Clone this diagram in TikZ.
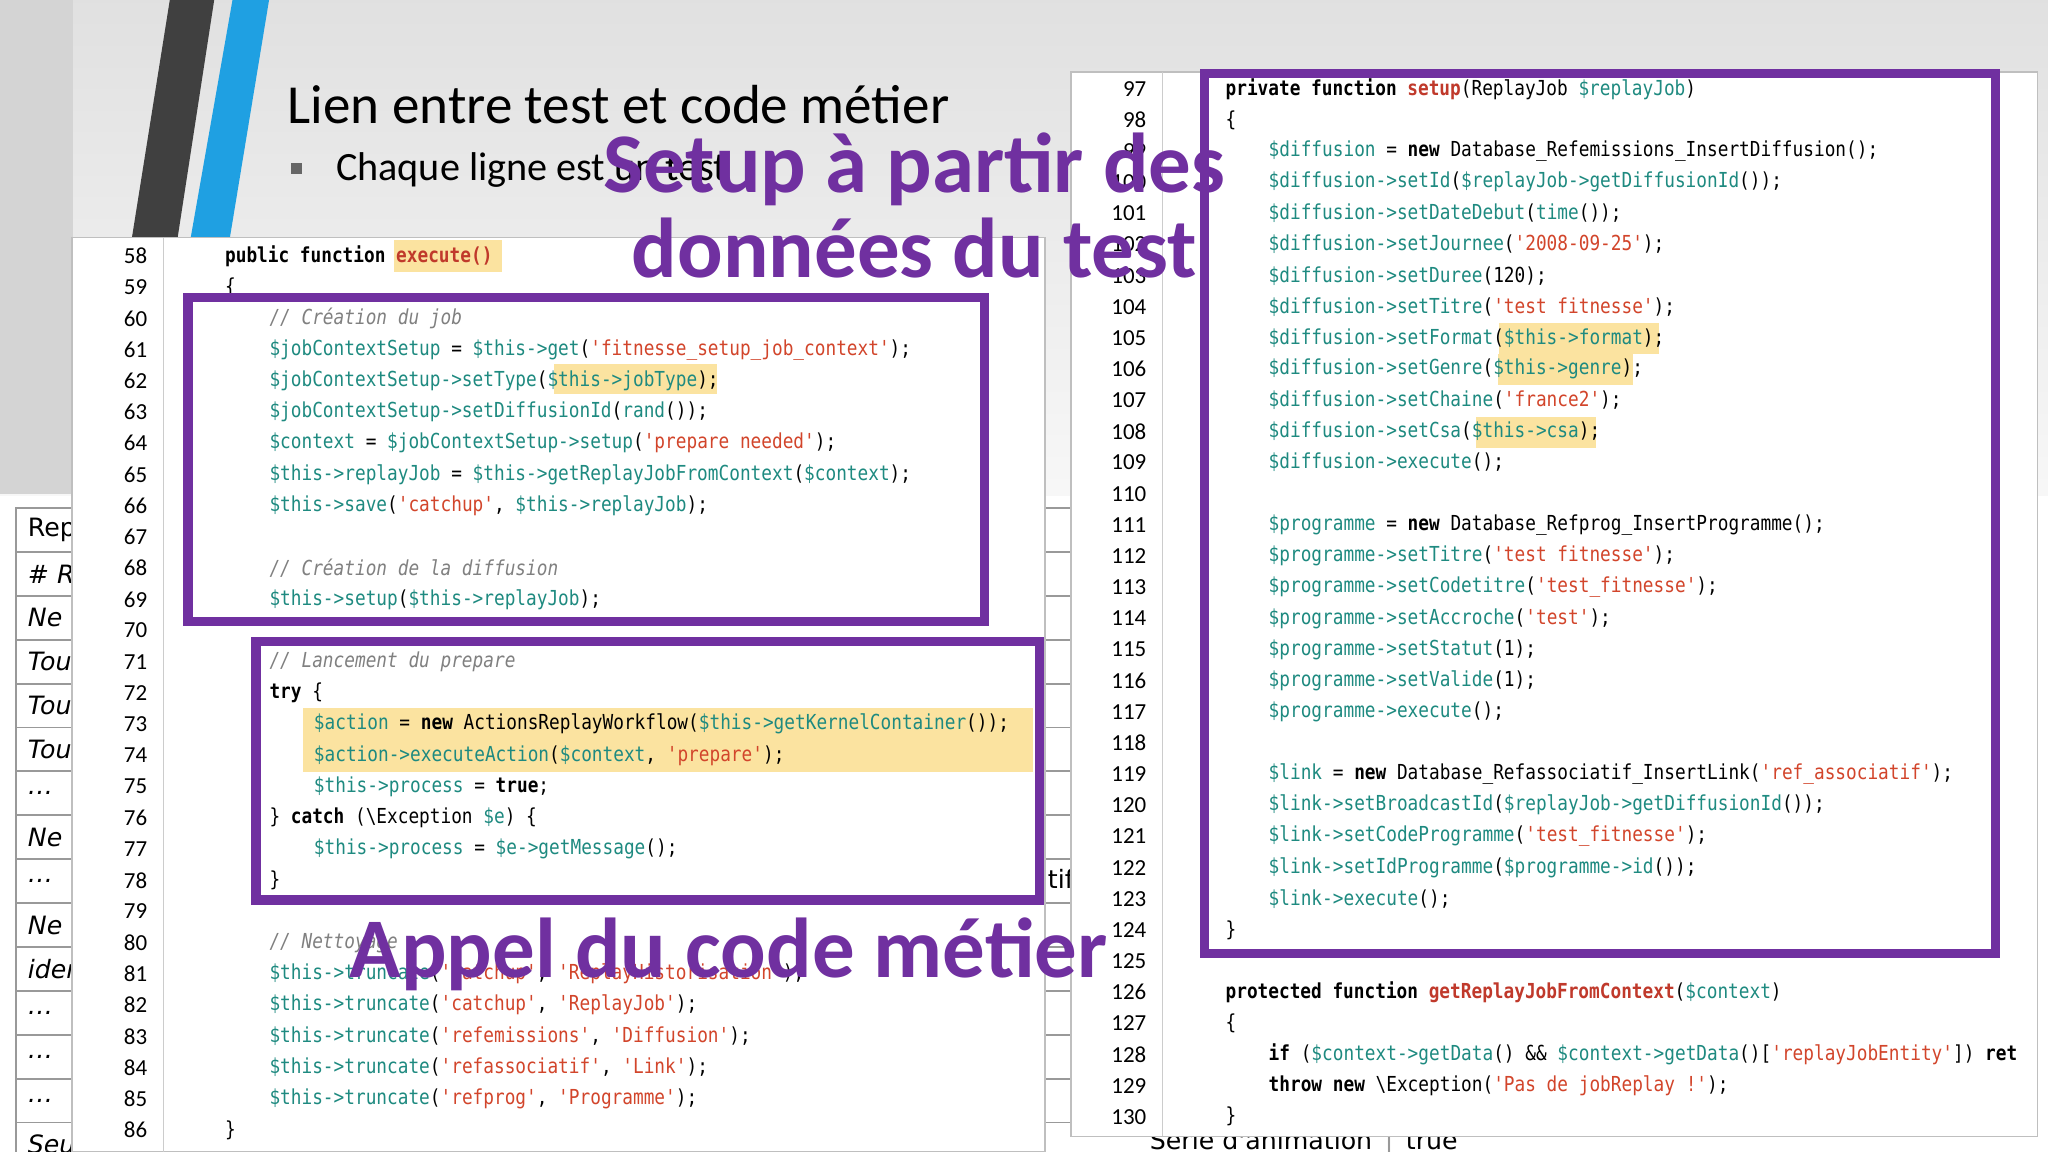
\documentclass[tikz,border=0pt]{standalone}
\usepackage{fontspec}
\setmainfont{Carlito}
\newfontfamily\codefont[FakeStretch=0.86,Ligatures=TeXOff]{DejaVu Sans Mono}
\newfontfamily\tabfont{DejaVu Sans}
\definecolor{pur}{HTML}{7030A0}
\definecolor{tealc}{HTML}{1E8A80}
\definecolor{strc}{HTML}{D2452B}
\definecolor{fnc}{HTML}{C0392B}
\definecolor{hlc}{HTML}{FBE3A0}
\definecolor{stripeblue}{HTML}{1FA0E2}
\newcommand\Tv[1]{\textcolor{tealc}{#1}}
\newcommand\Sq[1]{\textcolor{strc}{#1}}
\newcommand\Kw[1]{\textbf{#1}}
\newcommand\Cm[1]{\textcolor{gray}{\itshape #1}}
\newcommand\Fn[1]{\textcolor{fnc}{\textbf{#1}}}
\newcommand\CL[3]{\node[code] (L#2) at (#1,{196+(#2-58)*23.9}) {#3};}
\newcommand\CR[3]{\node[code] (R#2) at (#1,{68+(#2-97)*23.85}) {#3};}
\begin{document}
\begin{tikzpicture}[x=0.02cm,y=-0.02cm,
  code/.style={anchor=west,inner sep=0,font=\codefont\fontsize{9}{10}\selectfont},
  num/.style={anchor=east,inner sep=0,font=\fontsize{10}{11}\selectfont},
  panel/.style={fill=white,draw=black!25,line width=0.6pt},
  pbox/.style={draw=pur,line width=4pt},
  hl/.style={fill=hlc,draw=none},
  big/.style={text=pur,font=\bfseries\fontsize{37}{40}\selectfont,inner sep=0},
  cell/.style={draw=black!40,fill=white,line width=0.8pt},
  celltxt/.style={anchor=west,inner sep=0,font=\tabfont\fontsize{11}{12}\selectfont}]
\useasboundingbox (0,0) rectangle (1568,882);
% background
\shade[top color=black!12,bottom color=black!3] (0,0) rectangle (1568,380);
\fill[white] (0,380) rectangle (1568,882);
\fill[black!17] (0,0) rectangle (56,378);
% stripes
\fill[black!75] (130,0) -- (164,0) -- (136,182) -- (101,182) -- cycle;
\fill[stripeblue] (178,0) -- (206,0) -- (176,182) -- (146,182) -- cycle;
% title
\node[anchor=west,inner sep=0,font=\fontsize{24}{28}\selectfont] (title) at (220,80) {Lien entre test et code métier};
\fill[black!60] (223,125) rectangle (231,133);
\node[anchor=west,inner sep=0,font=\fontsize{17.5}{20}\selectfont] (bul) at (257,130) {Chaque ligne est un test};
% left table
\foreach \t [count=\i from 0] in {Rep,\# R,Ne,Tou,Tou,Tou,\ldots,Ne,\ldots,Ne,iden,\ldots,\ldots,\ldots,Seu}{
  \draw[cell] (12,{389+\i*33.6}) rectangle (70,{389+(\i+1)*33.6});
  \node[celltxt] (tc\i) at (21,{389+(\i+0.5)*33.6}) {\ifnum\i=0 Rep\else\textit{\t}\fi};
}
% right back table
\foreach \i in {0,...,14}{\draw[black!40,line width=0.8pt] (790,{389+\i*33.6}) -- (822,{389+\i*33.6});}
\node[anchor=west,inner sep=0,font=\tabfont\fontsize{11}{12}\selectfont] (tif) at (802,673) {tif};
\node[anchor=west,inner sep=0,font=\tabfont\fontsize{11}{12}\selectfont] (serie) at (880,875) {Série d'animation\hspace{0.5em}\textcolor{black!40}{|}\hspace{0.5em}true};
% left panel
\draw[panel] (55,182) rectangle (800,882);
\draw[black!20] (125,182) -- (125,882);
% right panel
\draw[panel] (820,55) rectangle (1560,870);
\draw[black!20] (890,55) -- (890,870);
% highlights
\fill[hl] (302,184) rectangle (384,208);
\fill[hl] (424,279) rectangle (549,302);
\fill[hl] (232,542) rectangle (791,591);
\fill[hl] (1148,247) rectangle (1270,271);
\fill[hl] (1147,271) rectangle (1250,295);
\fill[hl] (1130,319) rectangle (1222,343);
% line numbers
\foreach \n in {58,...,86}{\node[num] (nl\n) at (113,{196+(\n-58)*23.9}) {\n};}
\foreach \n in {97,...,130}{\node[num] (nr\n) at (878,{68+(\n-97)*23.85}) {\n};}
% left code
\CL{172}{58}{\Kw{public function} \Fn{execute()}}
\CL{172}{59}{\{}
\CL{206}{60}{\Cm{// Création du job}}
\CL{206}{61}{\Tv{\$jobContextSetup} = \Tv{\$this->get}(\Sq{'fitnesse\_setup\_job\_context'});}
\CL{206}{62}{\Tv{\$jobContextSetup->setType}(\Tv{\$this->jobType});}
\CL{206}{63}{\Tv{\$jobContextSetup->setDiffusionId}(\Tv{rand}());}
\CL{206}{64}{\Tv{\$context} = \Tv{\$jobContextSetup->setup}(\Sq{'prepare needed'});}
\CL{206}{65}{\Tv{\$this->replayJob} = \Tv{\$this->getReplayJobFromContext}(\Tv{\$context});}
\CL{206}{66}{\Tv{\$this->save}(\Sq{'catchup'}, \Tv{\$this->replayJob});}
\CL{206}{68}{\Cm{// Création de la diffusion}}
\CL{206}{69}{\Tv{\$this->setup}(\Tv{\$this->replayJob});}
\CL{206}{71}{\Cm{// Lancement du prepare}}
\CL{206}{72}{\Kw{try} \{}
\CL{240}{73}{\Tv{\$action} = \Kw{new} ActionsReplayWorkflow(\Tv{\$this->getKernelContainer}());}
\CL{240}{74}{\Tv{\$action->executeAction}(\Tv{\$context}, \Sq{'prepare'});}
\CL{240}{75}{\Tv{\$this->process} = \Kw{true};}
\CL{206}{76}{\} \Kw{catch} (\textbackslash Exception \Tv{\$e}) \{}
\CL{240}{77}{\Tv{\$this->process} = \Tv{\$e->getMessage}();}
\CL{206}{78}{\}}
\CL{206}{80}{\Cm{// Nettoyage}}
\CL{206}{81}{\Tv{\$this->truncate}(\Sq{'catchup'}, \Sq{'ReplayHistorisation'});}
\CL{206}{82}{\Tv{\$this->truncate}(\Sq{'catchup'}, \Sq{'ReplayJob'});}
\CL{206}{83}{\Tv{\$this->truncate}(\Sq{'refemissions'}, \Sq{'Diffusion'});}
\CL{206}{84}{\Tv{\$this->truncate}(\Sq{'refassociatif'}, \Sq{'Link'});}
\CL{206}{85}{\Tv{\$this->truncate}(\Sq{'refprog'}, \Sq{'Programme'});}
\CL{172}{86}{\}}
% right code
\begin{scope}
\clip (820,55) rectangle (1560,870);
\CR{938}{97}{\Kw{private function} \Fn{setup}(ReplayJob \Tv{\$replayJob})}
\CR{938}{98}{\{}
\CR{971}{99}{\Tv{\$diffusion} = \Kw{new} Database\_Refemissions\_InsertDiffusion();}
\CR{971}{100}{\Tv{\$diffusion->setId}(\Tv{\$replayJob->getDiffusionId}());}
\CR{971}{101}{\Tv{\$diffusion->setDateDebut}(\Tv{time}());}
\CR{971}{102}{\Tv{\$diffusion->setJournee}(\Sq{'2008-09-25'});}
\CR{971}{103}{\Tv{\$diffusion->setDuree}(120);}
\CR{971}{104}{\Tv{\$diffusion->setTitre}(\Sq{'test fitnesse'});}
\CR{971}{105}{\Tv{\$diffusion->setFormat}(\Tv{\$this->format});}
\CR{971}{106}{\Tv{\$diffusion->setGenre}(\Tv{\$this->genre});}
\CR{971}{107}{\Tv{\$diffusion->setChaine}(\Sq{'france2'});}
\CR{971}{108}{\Tv{\$diffusion->setCsa}(\Tv{\$this->csa});}
\CR{971}{109}{\Tv{\$diffusion->execute}();}
\CR{971}{111}{\Tv{\$programme} = \Kw{new} Database\_Refprog\_InsertProgramme();}
\CR{971}{112}{\Tv{\$programme->setTitre}(\Sq{'test fitnesse'});}
\CR{971}{113}{\Tv{\$programme->setCodetitre}(\Sq{'test\_fitnesse'});}
\CR{971}{114}{\Tv{\$programme->setAccroche}(\Sq{'test'});}
\CR{971}{115}{\Tv{\$programme->setStatut}(1);}
\CR{971}{116}{\Tv{\$programme->setValide}(1);}
\CR{971}{117}{\Tv{\$programme->execute}();}
\CR{971}{119}{\Tv{\$link} = \Kw{new} Database\_Refassociatif\_InsertLink(\Sq{'ref\_associatif'});}
\CR{971}{120}{\Tv{\$link->setBroadcastId}(\Tv{\$replayJob->getDiffusionId}());}
\CR{971}{121}{\Tv{\$link->setCodeProgramme}(\Sq{'test\_fitnesse'});}
\CR{971}{122}{\Tv{\$link->setIdProgramme}(\Tv{\$programme->id}());}
\CR{971}{123}{\Tv{\$link->execute}();}
\CR{938}{124}{\}}
\CR{938}{126}{\Kw{protected function} \Fn{getReplayJobFromContext}(\Tv{\$context})}
\CR{938}{127}{\{}
\CR{971}{128}{\Kw{if} (\Tv{\$context->getData}() \&\& \Tv{\$context->getData}()[\Sq{'replayJobEntity'}]) \Kw{ret}}
\CR{971}{129}{\Kw{throw new} \textbackslash Exception(\Sq{'Pas de jobReplay !'});}
\CR{938}{130}{\}}
\end{scope}
% purple boxes
\draw[pbox] (144,228) rectangle (754,476);
\draw[pbox] (196,491) rectangle (796,689);
\draw[pbox] (922,56) rectangle (1528,730);
% overlay texts
\node[big] (t1) at (700,130) {Setup à partir des};
\node[big] (t2) at (700,190) {données du test};
\node[big] (t3) at (558,731) {Appel du code métier};
\end{tikzpicture}
\end{document}
